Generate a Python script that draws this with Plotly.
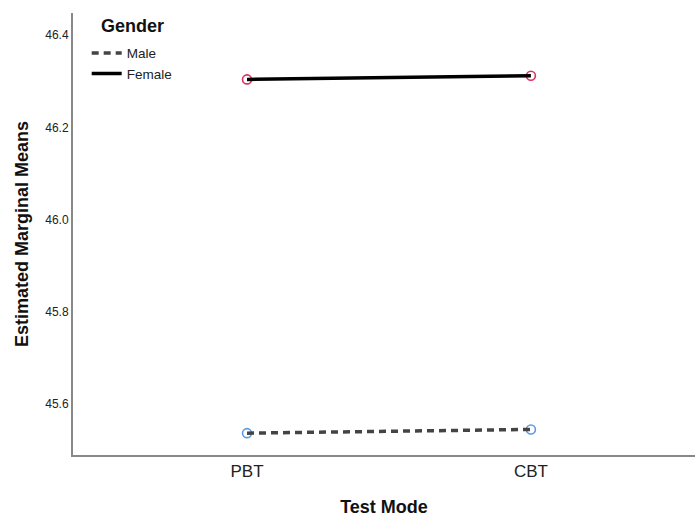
import plotly.graph_objects as go

# Estimated marginal means by test mode and gender
test_modes = ["PBT", "CBT"]
male_means = [45.537, 45.545]
female_means = [46.304, 46.312]
y_ticks = [45.6, 45.8, 46.0, 46.2, 46.4]

FONT = "Liberation Sans, Arial, sans-serif"

fig = go.Figure()

# point markers underneath the lines
fig.add_trace(go.Scatter(
    x=test_modes, y=male_means, mode="markers", showlegend=False,
    marker=dict(symbol="circle-open", size=9, color="#5b9be6", line=dict(width=1.6)),
    hoverinfo="skip",
))
fig.add_trace(go.Scatter(
    x=test_modes, y=female_means, mode="markers", showlegend=False,
    marker=dict(symbol="circle-open", size=9, color="#e0305e", line=dict(width=1.6)),
    hoverinfo="skip",
))

# profile lines
fig.add_trace(go.Scatter(
    x=test_modes, y=male_means, mode="lines", name="Male",
    line=dict(color="#444444", width=3.5, dash="7px,5px"),
))
fig.add_trace(go.Scatter(
    x=test_modes, y=female_means, mode="lines", name="Female",
    line=dict(color="#000000", width=3.5),
))

fig.update_layout(
    width=695, height=517,
    margin=dict(l=73, r=0, t=13, b=62),
    paper_bgcolor="white", plot_bgcolor="white",
    font=dict(family=FONT, size=13, color="#222222"),
    showlegend=True,
    legend=dict(
        x=0.022, y=0.944, xanchor="left", yanchor="top",
        bgcolor="rgba(0,0,0,0)", font=dict(family=FONT, size=13.5, color="#222222"),
        tracegroupgap=0, itemwidth=30,
    ),
    annotations=[dict(
        text="<b>Gender</b>", xref="paper", yref="paper",
        x=0.041, y=0.97, xanchor="left", yanchor="middle",
        showarrow=False, font=dict(family=FONT, size=18, color="#111111"),
    )],
)

fig.update_xaxes(
    type="category", range=[-0.613, 1.578],
    showline=True, linecolor="#888888", linewidth=2,
    showgrid=False, zeroline=False, ticks="",
    tickfont=dict(family=FONT, size=17, color="#222222"),
    title=dict(text="<b>Test Mode</b>", font=dict(family=FONT, size=18, color="#111111"), standoff=23),
)
fig.update_yaxes(
    range=[45.4896, 46.448],
    tickvals=y_ticks, ticktext=[f"{v:.1f}" for v in y_ticks],
    showline=True, linecolor="#888888", linewidth=2,
    showgrid=False, zeroline=False, ticks="",
    tickfont=dict(family=FONT, size=12, color="#222222"),
    title=dict(text="<b>Estimated Marginal Means</b>", font=dict(family=FONT, size=18, color="#111111"), standoff=12),
)

fig.write_html("out.html")
